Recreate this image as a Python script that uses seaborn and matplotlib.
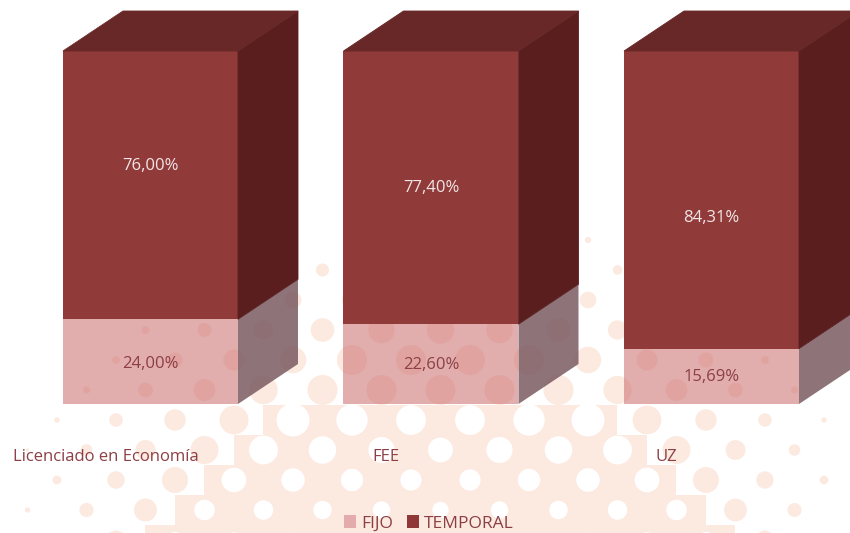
import numpy as np
import pandas as pd
import matplotlib
matplotlib.use("Agg")
import matplotlib.pyplot as plt
from matplotlib.patches import Polygon, Patch
import seaborn as sns

categories = ["Licenciado en Economía", "FEE", "UZ"]
fijo = [24.00, 22.60, 15.69]
temporal = [76.00, 77.40, 84.31]
fijo_labels = ["24,00%", "22,60%", "15,69%"]
temporal_labels = ["76,00%", "77,40%", "84,31%"]
# vertical nudges (pixels) of the value labels, as placed in the reference
temporal_nudge = [19, 0, -18]
fijo_nudge = [-2, -1, -1]

W, H = 850, 533
sns.set_theme(style="white")
plt.rcParams["font.family"] = ["Open Sans", "DejaVu Sans"]

fig = plt.figure(figsize=(W / 100, H / 100), dpi=100, facecolor="white")

# decorative halftone background (figure pixel space)
bg = fig.add_axes([0, 0, 1, 1], zorder=0)
bg.set_xlim(0, W)
bg.set_ylim(H, 0)
bg.axis("off")
PEACH = "#FCE9DF"
cx, cy = 440, 545
dx, dy = 29.5, 30.0


def cells():
    for r in range(-1, 20):
        py = 540 - r * dy
        for c in range(-1, 32):
            if (r + c) % 2 == 0:
                yield c * dx - 2, py


def inner(px, py):
    return py >= 415 and abs(px - cx) < 185 + (py - 420) * 1.1


for px, py in cells():
    if inner(px, py):
        bg.add_patch(plt.Rectangle((px - 29.5, py - 15), 59, 30.5, fc=PEACH, ec="none"))
for px, py in cells():
    if inner(px, py):
        rad = 14.5 - (py - 420) * 0.07
        edge = abs(px - cx) / (185 + (py - 420) * 1.1)
        bg.add_patch(plt.Circle((px, py), rad + 2.5 * edge, fc="white", ec="none"))
    else:
        d = np.hypot((px - cx) / 1.25, py - cy)
        rad = min(15, 16 * (1 - (d - 190) / 170))
        if rad > 1.5:
            bg.add_patch(plt.Circle((px, py), rad, fc=PEACH, ec="none"))

# data axes: scaled so that bar fronts land where the reference has them
px_per_unit = 3.53
base_px = 404
slot = 280.5
ax = fig.add_axes([10.25 / W, 0, 3 * slot / W, 1], zorder=1)
ax.patch.set_alpha(0)

df = pd.DataFrame({"cat": categories, "fijo": fijo, "temporal": temporal})
sns.barplot(data=df, x="cat", y="fijo", ax=ax, color="#C96B6B", alpha=0.55,
            width=175 / slot, saturation=1, linewidth=0)
n_f = len(ax.patches)
sns.barplot(data=df, x="cat", y="temporal", bottom=df["fijo"], ax=ax, color="#8E3636",
            alpha=0.98, width=175 / slot, saturation=1, linewidth=0)
ax.set_xlim(-0.5, 2.5)
ax.set_ylim(-(H - base_px) / px_per_unit, base_px / px_per_unit)
ax.axis("off")

# 3D sides derived from the bars
ox, oy = 60 / slot, 40 / px_per_unit
fronts_f = ax.patches[:n_f]
fronts_t = ax.patches[n_f:]
for pf, pt in zip(fronts_f, fronts_t):
    xr = pf.get_x() + pf.get_width()
    xl = pf.get_x()
    y0, y1 = pf.get_y(), pf.get_y() + pf.get_height()
    y2 = pt.get_y() + pt.get_height()
    ax.add_patch(Polygon([(xr, y0), (xr + ox, y0 + oy), (xr + ox, y1 + oy), (xr, y1)],
                         fc="#7A5A62", ec="none", alpha=0.85, zorder=3))
    ax.add_patch(Polygon([(xr, y1), (xr + ox, y1 + oy), (xr + ox, y2 + oy), (xr, y2)],
                         fc="#5A1E1F", ec="#5A1E1F", lw=0.6, zorder=3))
    ax.add_patch(Polygon([(xl, y2), (xl + ox, y2 + oy), (xr + ox, y2 + oy), (xr, y2)],
                         fc="#692828", ec="#692828", lw=0.6, zorder=3))

# value labels
for i in range(3):
    ax.annotate(fijo_labels[i], xy=(i, fijo[i] / 2), xytext=(0, fijo_nudge[i]),
                textcoords="offset pixels", ha="center", va="center",
                fontsize=12, color="#8C3F45", zorder=5)
    ax.annotate(temporal_labels[i], xy=(i, fijo[i] + temporal[i] / 2),
                xytext=(0, temporal_nudge[i]), textcoords="offset pixels",
                ha="center", va="center", fontsize=12, color="#F3E6E6", zorder=5)
    ax.annotate(categories[i], xy=(i, 0), xytext=(-45, -53), textcoords="offset pixels",
                ha="center", va="center", fontsize=12, color="#8C3F45", zorder=5)

handles = [Patch(fc="#E3ABAB", ec="none", label="FIJO"),
           Patch(fc="#903838", ec="none", label="TEMPORAL")]
fig.legend(handles=handles, loc="center", bbox_to_anchor=(429 / W, 9.5 / H), ncol=2,
           frameon=False, fontsize=12.5, labelcolor="#8C3F45", handlelength=0.7,
           handleheight=0.7, handletextpad=0.3, columnspacing=0.8, borderpad=0)

fig.savefig("out.png", dpi=100, facecolor="white")
